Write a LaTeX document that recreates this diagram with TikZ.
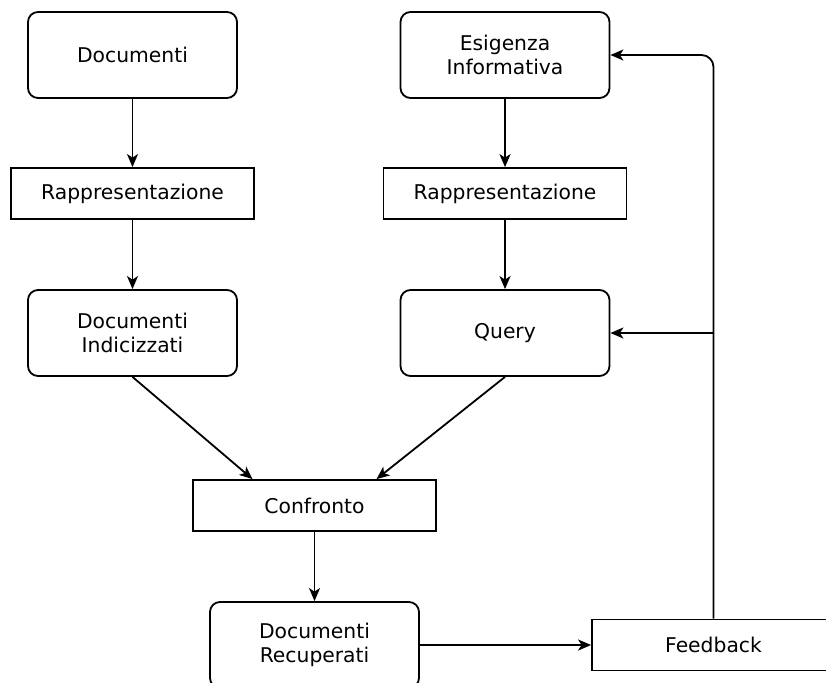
\documentclass[tikz,border=0pt]{standalone}
\usepackage{fontspec}
\setmainfont{DejaVu Sans}
\usetikzlibrary{arrows.meta}
\begin{document}
\begin{tikzpicture}[x=1pt,y=-1pt,
  lbl/.style={align=center, font=\fontsize{20.3}{23.5}\selectfont, inner sep=0pt},
  rbox/.style={lbl, draw, line width=1.8pt, rounded corners=10pt, minimum width=209pt, minimum height=86pt},
  sbox/.style={lbl, draw, line width=1.8pt, minimum width=243pt, minimum height=51pt},
  arr/.style={line width=1.8pt, -{Stealth[length=13pt,width=11pt,inset=3.5pt]}}]
\useasboundingbox (0,0) rectangle (826,682);
\clip (0,0) rectangle (826,682);
\fill[white] (0,0) rectangle (826,682);
\node[rbox] (doc) at (132.5,55) {Documenti};
\node[sbox] (rep1) at (132.5,193.5) {Rappresentazione};
\node[rbox] (docind) at (132.5,333) {Documenti\\Indicizzati};
\node[rbox] (esi) at (505,55) {Esigenza\\Informativa};
\node[sbox] (rep2) at (505,193.5) {Rappresentazione};
\node[rbox] (query) at (505,333) {Query};
\node[sbox] (conf) at (314.5,505.5) {Confronto};
\node[rbox] (docrec) at (314.5,645) {Documenti\\Recuperati};
\node[sbox] (feed) at (713.5,645) {Feedback};
\coordinate (fbtop) at (713.5,55);
\coordinate (fbmid) at (713.5,333);
\draw[arr] (doc) -- (rep1);
\draw[arr] (rep1) -- (docind);
\draw[arr] (esi) -- (rep2);
\draw[arr] (rep2) -- (query);
\draw[arr] (docind.south) -- ([xshift=-62pt]conf.north);
\draw[arr] (query.south) -- ([xshift=62pt]conf.north);
\draw[arr] (conf) -- (docrec);
\draw[arr] (docrec.east) -- (feed.west);
\draw[arr, rounded corners=12pt] (feed.north) -- (fbtop) -- (esi.east);
\draw[arr] (fbmid) -- (query.east);
\end{tikzpicture}
\end{document}
